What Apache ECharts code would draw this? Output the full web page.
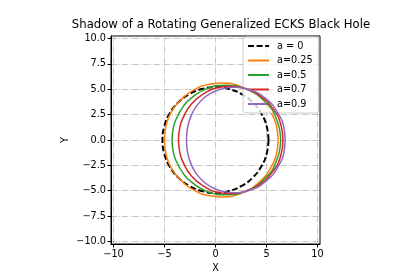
<!DOCTYPE html>
<html>
<head>
<meta charset="utf-8">
<script src="https://cdn.jsdelivr.net/npm/echarts@6/dist/echarts.min.js"></script>
<style>html,body{margin:0;padding:0;background:#fff}#c{width:420px;height:280px}</style>
</head>
<body>
<div id="c"></div>
<script>
// ---- data ----
var seriesNames = ['a = 0', 'a=0.25', 'a=0.5', 'a=0.7', 'a=0.9'];
var xTicks = [-10, -5, 0, 5, 10];
var yTicks = [-10, -7.5, -5, -2.5, 0, 2.5, 5, 7.5, 10];

var shadowA0 = [[5.2,0],[5.02,1.35],[4.5,2.6],[3.68,3.68],[2.6,4.5],[1.35,5.02],[0,5.2],[-1.35,5.02],[-2.6,4.5],[-3.68,3.68],[-4.5,2.6],[-5.02,1.35],[-5.2,0],
  [-5.02,-1.35],[-4.5,-2.6],[-3.68,-3.68],[-2.6,-4.5],[-1.35,-5.02],[0,-5.2],[1.35,-5.02],[2.6,-4.5],[3.68,-3.68],[4.5,-2.6],[5.02,-1.35],[5.2,0]];
var shadowA025 = [[6.15,0],[5.95,1.5],[5.58,2.44],[4.54,3.93],[2.51,5.26],[0.54,5.61],[-0.42,5.53],[-2.28,4.85],[-3.5,3.85],[-4.09,3.14],[-4.62,2.16],[-4.9,1.1],[-5.0,0],
  [-4.9,-1.1],[-4.62,-2.16],[-4.09,-3.14],[-3.5,-3.85],[-2.28,-4.85],[-0.42,-5.53],[0.54,-5.61],[2.51,-5.26],[4.54,-3.93],[5.58,-2.44],[5.95,-1.5],[6.15,0]];
var shadowA05 = [[6.39,0],[6.03,1.92],[4.96,3.67],[2.93,5.05],[1.04,5.4],[-0.72,5.11],[-2.35,4.16],[-3.12,3.36],[-3.87,2.04],[-4.17,1.01],[-4.26,0],
  [-4.17,-1.01],[-3.87,-2.04],[-3.12,-3.36],[-2.35,-4.16],[-0.72,-5.11],[1.04,-5.4],[2.93,-5.05],[4.96,-3.67],[6.03,-1.92],[6.39,0]];
var shadowA07 = [[6.62,0],[6.42,1.47],[5.62,3.12],[4.12,4.53],[2.72,5.13],[1.43,5.3],[0.23,5.16],[-0.86,4.74],[-2.34,3.57],[-3.24,2.05],[-3.51,1.15],[-3.63,0],
  [-3.51,-1.15],[-3.24,-2.05],[-2.34,-3.57],[-0.86,-4.74],[0.23,-5.16],[1.43,-5.3],[2.72,-5.13],[4.12,-4.53],[5.62,-3.12],[6.42,-1.47],[6.62,0]];
var shadowA09 = [[6.83,0],[6.77,0.84],[6.13,2.64],[4.92,4.07],[3.26,4.97],[1.8,5.2],[0.73,5.07],[-0.21,4.73],[-1.19,4.09],[-2.0,3.14],[-2.49,2.13],[-2.74,1.21],[-2.85,0],
  [-2.74,-1.21],[-2.49,-2.13],[-2.0,-3.14],[-1.19,-4.09],[-0.21,-4.73],[0.73,-5.07],[1.8,-5.2],[3.26,-4.97],[4.92,-4.07],[6.13,-2.64],[6.77,-0.84],[6.83,0]];

var curves = [shadowA0, shadowA025, shadowA05, shadowA07, shadowA09];
var colors = ['#000000', '#ff7f0e', '#2ca02c', '#d62728', '#9467bd'];

// ---- chart ----
var FONT = 'DejaVu Sans';
function fmtX(v){ return String(v).replace('-', '\u2212'); }
function fmtY(v){ return Number(v).toFixed(1).replace('-', '\u2212'); }

var chart = echarts.init(document.getElementById('c'), null, {renderer: 'canvas'});
var series = curves.map(function (d, i) {
  return {
    name: seriesNames[i],
    type: 'line',
    data: d,
    smooth: 0.5,
    symbol: 'none',
    showSymbol: false,
    z: 2 + i,
    lineStyle: i === 0 ? {color: colors[i], width: 2, type: [6, 2.6]} : {color: colors[i], width: 1.5},
    itemStyle: {color: colors[i]}
  };
});

chart.setOption({
  animation: false,
  backgroundColor: '#ffffff',
  title: {
    text: 'Shadow of a Rotating Generalized ECKS Black Hole',
    left: 216, top: 14, textAlign: 'center',
    textStyle: {fontFamily: FONT, fontSize: 11.7, fontWeight: 'normal', color: '#000'}
  },
  grid: {left: 111, top: 36, width: 209, height: 208, show: true, borderColor: '#000', borderWidth: 1, backgroundColor: 'transparent'},
  legend: {
    data: seriesNames,
    orient: 'vertical',
    left: 243, top: 37,
    padding: [4, 6, 4, 4],
    itemWidth: 21, itemHeight: 10, itemGap: 4.5,
    itemStyle: {opacity: 0, borderWidth: 0},
    backgroundColor: 'rgba(255,255,255,0.8)',
    borderColor: '#cccccc', borderWidth: 1, borderRadius: 3,
    textStyle: {fontFamily: FONT, fontSize: 9.7, color: '#000', padding: [0, 0, 0, 3], lineHeight: 10}
  },
  xAxis: {
    type: 'value', min: -10.25, max: 10.25,
    name: 'X', nameLocation: 'middle', nameGap: 19,
    nameTextStyle: {fontFamily: FONT, fontSize: 9.7, color: '#000'},
    axisLine: {show: true, onZero: false, lineStyle: {color: '#000', width: 1}},
    axisTick: {show: true, inside: false, length: 3.5, lineStyle: {color: '#000'}, customValues: xTicks},
    axisLabel: {fontFamily: FONT, fontSize: 9.7, color: '#000', margin: 5, customValues: xTicks, formatter: fmtX},
    splitLine: {show: true, lineStyle: {color: '#b8b8b8', width: 0.8, type: [6.4, 1.6, 1, 1.6]}}
  },
  yAxis: {
    type: 'value', min: -10.25, max: 10.25,
    name: 'Y', nameLocation: 'middle', nameGap: 41, nameRotate: 90,
    nameTextStyle: {fontFamily: FONT, fontSize: 9.7, color: '#000'},
    axisLine: {show: true, onZero: false, lineStyle: {color: '#000', width: 1}},
    axisTick: {show: true, inside: false, length: 3.5, lineStyle: {color: '#000'}, customValues: yTicks},
    axisLabel: {fontFamily: FONT, fontSize: 9.7, color: '#000', margin: 5, customValues: yTicks, formatter: fmtY},
    splitLine: {show: true, lineStyle: {color: '#b8b8b8', width: 0.8, type: [6.4, 1.6, 1, 1.6]}}
  },
  series: series
});
</script>
</body>
</html>
